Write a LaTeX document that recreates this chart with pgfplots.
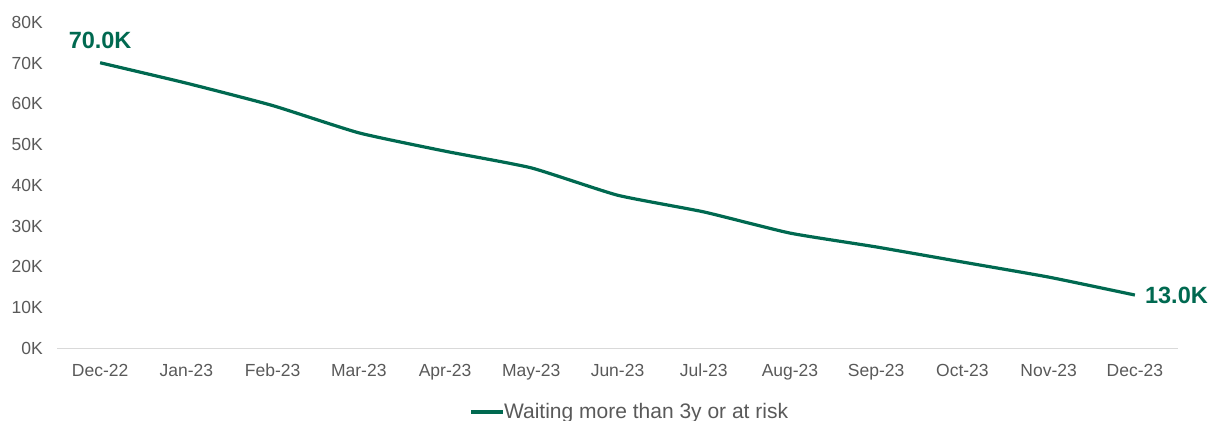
\documentclass[border=0pt]{standalone}
\usepackage{pgfplots}
\pgfplotsset{compat=1.18}
\usepackage{fontspec}
\setmainfont{Liberation Sans}
\definecolor{lgreen}{RGB}{0,105,80}
\definecolor{tickgrey}{RGB}{89,89,89}
\definecolor{axgrey}{RGB}{217,217,217}
\begin{document}
\begin{tikzpicture}
\path[use as bounding box] (-57bp,-73bp) rectangle (1153bp,348bp);
\begin{axis}[
  at={(0,0)}, anchor=south west,
  scale only axis,
  width=1121bp, height=326bp,
  xmin=-0.5, xmax=12.5,
  ymin=0, ymax=80000,
  xtick={0,...,12},
  xticklabels={Dec-22,Jan-23,Feb-23,Mar-23,Apr-23,May-23,Jun-23,Jul-23,Aug-23,Sep-23,Oct-23,Nov-23,Dec-23},
  ytick={0,10000,...,80000},
  yticklabels={0K,10K,20K,30K,40K,50K,60K,70K,80K},
  scaled y ticks=false,
  /pgf/number format/assume math mode=true,
  tick label style={font=\fontsize{17.5bp}{20bp}\selectfont, text=tickgrey},
  major tick length=0pt,
  xticklabel style={anchor=base, yshift=-28bp, inner sep=0pt},
  yticklabel style={anchor=base east, inner sep=0pt, xshift=-14bp, yshift=-6.3bp},
  axis line style={draw=none},
  axis x line*=bottom,
  axis y line*=left,
  clip=false,
  legend style={at={(0.511,-0.196)}, anchor=center, draw=none, fill=none,
    font=\fontsize{21bp}{24bp}\selectfont, text=tickgrey, inner sep=0pt},
  legend cell align=left,
  legend image code/.code={\draw[#1, line width=3.5bp] (0bp,0bp) -- (32bp,0bp);},
]
\draw[axgrey, line width=1bp] (axis cs:-0.5,0) -- (axis cs:12.5,0);
\addplot[lgreen, line width=3.2bp, smooth, tension=0.3, mark=none] coordinates {
 (0,70000) (1,65000) (2,59500) (3,52800) (4,48300) (5,44200) (6,37500)
 (7,33400) (8,28200) (9,24800) (10,21100) (11,17400) (12,13000)
};
\addlegendentry{\hspace{-3bp}Waiting more than 3y or at risk}
\node[anchor=south, text=lgreen, font=\bfseries\fontsize{23.5bp}{26bp}\selectfont, inner sep=0pt] at (axis cs:0,70000) [yshift=14bp] {70.0K};
\node[anchor=west, text=lgreen, font=\bfseries\fontsize{23.5bp}{26bp}\selectfont, inner sep=0pt] at (axis cs:12,13000) [xshift=10bp] {13.0K};
\end{axis}
\end{tikzpicture}
\end{document}
